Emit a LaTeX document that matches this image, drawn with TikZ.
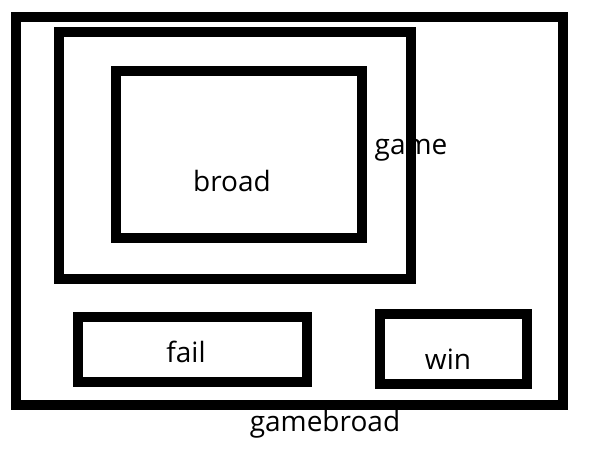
\documentclass[tikz,border=0pt]{standalone}
\usepackage{fontspec}
\setmainfont{Open Sans}
\begin{document}
\begin{tikzpicture}[x=1pt,y=-1pt,
		frame/.style={draw=black,line width=10pt},
		lbl/.style={font=\fontsize{28}{32}\selectfont,inner sep=0pt}]
		\useasboundingbox[fill=white] (0,0) rectangle (611,462);
		
		% frames
		\draw[frame] (16,17) rectangle (563,405);
		\draw[frame] (59,32) rectangle (411,279);
		\draw[frame] (116,71) rectangle (362,238);
		\draw[frame] (78,317) rectangle (307,382);
		\draw[frame] (380,314) rectangle (527,384);
		
		% labels
		\node[lbl] (game) at (411,150) {game};
		\node[lbl] (broad) at (232,181) {broad};
		\node[lbl] (fail) at (186,352) {fail};
		\node[lbl] (win) at (448,359) {win};
		\node[lbl] (gamebroad) at (325,424) {gamebroad};
	\end{tikzpicture}
\end{document}
